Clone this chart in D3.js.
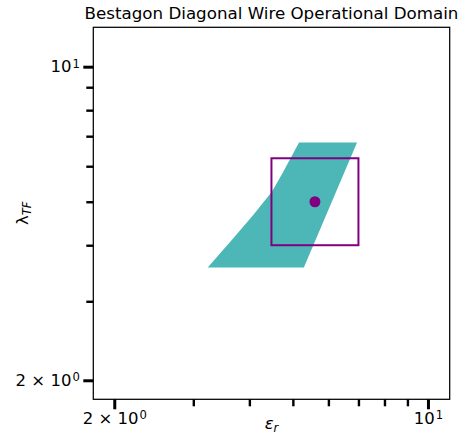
<!DOCTYPE html>
<html>
<head>
<meta charset="utf-8">
<script src="https://cdn.jsdelivr.net/npm/d3@7"></script>
<style>
  body { margin: 0; background: #fff; }
  svg { display: block; font-family: "DejaVu Sans", sans-serif; }
</style>
</head>
<body>
<div id="chart"></div>
<script>
// operational domain outline (eps_r, lambda_TF)
var domainEps    = [3.23, 3.68, 4.08, 4.49, 4.72, 5.01, 5.16, 6.95, 5.29];
var domainLambda = [3.57, 4.14, 4.67, 5.26, 5.74, 6.41, 6.78, 6.78, 3.57];

// the nominal parameter point and its +-box
var pointEps = [5.6];
var pointLambda = [5.0];
var boxEps = [4.48, 7.0];
var boxLambda = [4.0, 6.25];

var xMajor = [2, 10], xMinor = [3, 4, 5, 6, 7, 8, 9];
var yMajor = [2, 10], yMinor = [3, 4, 5, 6, 7, 8, 9];
var majorLabels = {2: ["2 \u00d7 10", "0"], 10: ["10", "1"]};

var totalWidth = 468, totalHeight = 437;
var margin = { top: 27.3, left: 93.3, right: 18.3, bottom: 37.7 };
var width = totalWidth - margin.left - margin.right;
var height = totalHeight - margin.top - margin.bottom;

var svg = d3.select("#chart").append("svg")
    .attr("width", totalWidth)
    .attr("height", totalHeight);

var g = svg.append("g")
    .attr("transform", "translate(" + margin.left + "," + margin.top + ")");

var x = d3.scaleLog().domain([1.796, 11.18]).range([0, width]),
    y = d3.scaleLog().domain([1.814, 12.24]).range([height, 0]);

var teal = "#4db6b6", purple = "#800080";

// domain region
var pts = domainEps.map((e, i) => [e, domainLambda[i]]);
var line = d3.line()
    .x(d => x(d[0]))
    .y(d => y(d[1]))
    .curve(d3.curveLinearClosed);

g.append("path")
  .attr("d", line(pts))
  .attr("fill", teal)
  .attr("stroke", "none");

// box round the nominal point
g.append("rect")
  .attr("x", x(boxEps[0]))
  .attr("y", y(boxLambda[1]))
  .attr("width", x(boxEps[1]) - x(boxEps[0]))
  .attr("height", y(boxLambda[0]) - y(boxLambda[1]))
  .attr("fill", "none")
  .attr("stroke", purple)
  .attr("stroke-width", 2);

g.selectAll("circle.pt")
  .data(pointEps)
  .enter().append("circle")
  .attr("class", "pt")
  .attr("cx", d => x(d))
  .attr("cy", (d, i) => y(pointLambda[i]))
  .attr("r", 5.5)
  .attr("fill", purple);

// frame
g.append("rect")
  .attr("width", width)
  .attr("height", height)
  .attr("fill", "none")
  .attr("stroke", "#000")
  .attr("stroke-width", 1.25);

function styleAxis(sel, w) {
  sel.select(".domain").remove();
  sel.selectAll(".tick line").attr("stroke", "#000").attr("stroke-width", w);
}

function supLabel(sel) {
  sel.each(function(d) {
    var t = d3.select(this).text("");
    var parts = majorLabels[d];
    t.append("tspan").text(parts[0]);
    t.append("tspan").attr("dx", "1").attr("dy", "-0.42em").attr("font-size", "11.6px").text(parts[1]);
  });
}

// x axis
g.append("g")
  .attr("transform", "translate(0," + height + ")")
  .call(d3.axisBottom(x).tickValues(xMinor).tickSize(7).tickFormat(""))
  .call(s => styleAxis(s, 2.4));

var xa = g.append("g")
  .attr("transform", "translate(0," + height + ")")
  .call(d3.axisBottom(x).tickValues(xMajor).tickSize(10).tickPadding(3).tickFormat(d => d))
  .call(s => styleAxis(s, 3));
xa.selectAll(".tick text")
  .attr("fill", "#000")
  .attr("font-size", "16.5px")
  .attr("font-family", "DejaVu Sans")
  .call(supLabel);

// y axis
g.append("g")
  .call(d3.axisLeft(y).tickValues(yMinor).tickSize(7).tickFormat(""))
  .call(s => styleAxis(s, 2.4));

var ya = g.append("g")
  .call(d3.axisLeft(y).tickValues(yMajor).tickSize(10).tickPadding(3.5).tickFormat(d => d))
  .call(s => styleAxis(s, 3));
ya.selectAll(".tick text")
  .attr("fill", "#000")
  .attr("font-size", "16.5px")
  .attr("font-family", "DejaVu Sans")
  .call(supLabel);

// title and axis labels
svg.append("text")
  .attr("x", margin.left + width / 2)
  .attr("y", 18.5)
  .attr("text-anchor", "middle")
  .attr("font-size", "16.7px")
  .text("Bestagon Diagonal Wire Operational Domain");

var xl = svg.append("text")
  .attr("x", margin.left + width / 2)
  .attr("y", 429)
  .attr("text-anchor", "middle")
  .attr("font-size", "16.5px");
xl.append("tspan").attr("font-style", "italic").text("\u03b5");
xl.append("tspan").attr("font-style", "italic").attr("font-size", "11.6px").attr("dy", "0.25em").text("r");

var yl = svg.append("text")
  .attr("transform", "translate(28," + (margin.top + height / 2) + ") rotate(-90)")
  .attr("text-anchor", "middle")
  .attr("font-size", "16.5px");
yl.append("tspan").text("\u03bb");
yl.append("tspan").attr("font-style", "italic").attr("font-size", "11.6px").attr("dy", "0.25em").text("TF");
</script>
</body>
</html>
